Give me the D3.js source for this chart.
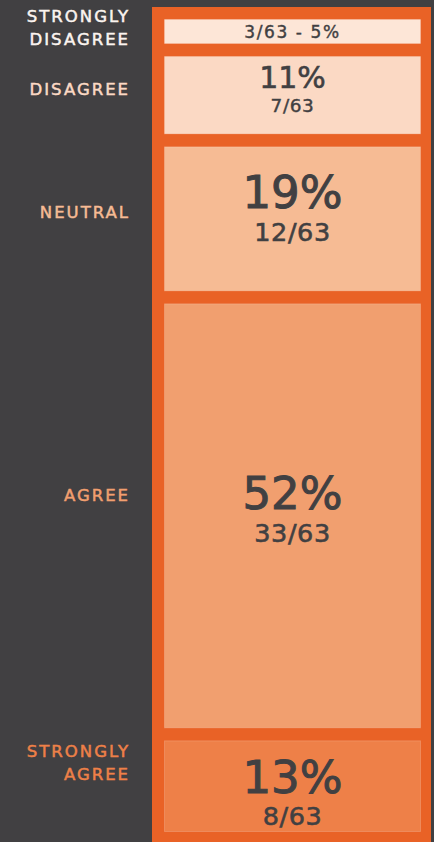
<!DOCTYPE html>
<html>
<head>
<meta charset="utf-8">
<script src="https://cdn.jsdelivr.net/npm/d3@7"></script>
<style>
  body { margin: 0; background: #414042; }
  svg { display: block; }
</style>
</head>
<body>
<svg width="434" height="842"></svg>
<script>
// survey answers, top to bottom
var categories = ["STRONGLY DISAGREE", "DISAGREE", "NEUTRAL", "AGREE", "STRONGLY AGREE"]
var counts = [3, 7, 12, 33, 8]
var percents = [5, 11, 19, 52, 13]
var total = 63

// styles
var boxFill = ["#fde6d7", "#fbd9c4", "#f6bb94", "#f19f6f", "#ee8048"]
var labelFill = ["#fbf4ef", "#fbd9c4", "#f6bb94", "#f19f6f", "#ee8048"]
var labelNudge = [-4, -6, -7, -21, -24]
var textNudge = [0, -6, -6, -2, 11]

var svg = d3.select("svg")
var font = "'DejaVu Sans', sans-serif"
var dark = "#414042"

var frame = {x: 152, y: 7, right: 431}
var inner = {x0: 164, x1: 421}
var gap = 12

// box height from answer count
var hScale = d3.scaleLinear().domain([3, 33]).range([25, 425])

var rows = []
var y0 = frame.y + gap
categories.forEach(function(c, i) {
  var hh = hScale(counts[i])
  rows.push({cat: c, count: counts[i], pct: percents[i], top: y0, h: hh, i: i})
  y0 += hh + gap
})

// orange column
svg.append("rect")
  .attr("x", frame.x).attr("y", frame.y)
  .attr("width", frame.right - frame.x)
  .attr("height", 900)
  .attr("fill", "#e96226")

var g = svg.selectAll("g.row").data(rows).enter().append("g").attr("class", "row")

g.append("rect")
  .attr("x", inner.x0 + 0.5)
  .attr("y", function(d) { return d.top + 0.5 })
  .attr("width", inner.x1 - inner.x0 - 1)
  .attr("height", function(d) { return d.h - 1 })
  .attr("fill", function(d) { return boxFill[d.i] })
  .attr("stroke", "#ffffff").attr("stroke-opacity", 0.18).attr("stroke-width", 1)

var cx = (inner.x0 + inner.x1) / 2

function thick(sel, col, w) {
  sel.attr("fill", col).attr("stroke", col).attr("stroke-width", w)
}

g.each(function(d) {
  var el = d3.select(this)
  var mid = d.top + d.h / 2 + textNudge[d.i]
  if (d.h < 40) {
    el.append("text")
      .attr("x", cx).attr("y", mid + 6.5)
      .attr("text-anchor", "middle")
      .style("font-family", font).style("font-size", "17px")
      .style("letter-spacing", "1.6px")
      .call(thick, dark, 0.4)
      .text(d.count + "/" + total + " - " + d.pct + "%")
  } else {
    var big = d.h > 85
    var pSize = big ? 45 : 30
    var cSize = big ? 25.5 : 18.5
    var pBase = big ? mid - 4.5 : mid - 1
    var cBase = big ? pBase + 32.5 : pBase + 24
    el.append("text")
      .attr("x", cx).attr("y", pBase)
      .attr("text-anchor", "middle")
      .style("font-family", font).style("font-size", pSize + "px")
      .call(thick, dark, big ? 1 : 0.6)
      .text(d.pct + "%")
    el.append("text")
      .attr("x", cx).attr("y", cBase)
      .attr("text-anchor", "middle")
      .style("font-family", font).style("font-size", cSize + "px")
      .style("letter-spacing", "0.6px")
      .call(thick, dark, big ? 0.6 : 0.4)
      .text(d.count + "/" + total)
  }
})

// category labels on the left
g.each(function(d) {
  var words = d.cat.split(" ")
  var lines = words.length > 1 ? [words[0], words.slice(1).join(" ")] : words
  var c = d.top + d.h / 2 + labelNudge[d.i]
  var lh = 23.3
  var first = c + 6 - (lines.length - 1) * lh / 2
  var t = d3.select(this).append("text")
    .attr("text-anchor", "end")
    .style("font-family", font).style("font-size", "16.5px")
    .style("letter-spacing", "2px")
    .call(thick, labelFill[d.i], 0.5)
  lines.forEach(function(l, k) {
    t.append("tspan").attr("x", 130).attr("y", first + k * lh).text(l)
  })
})
</script>
</body>
</html>
